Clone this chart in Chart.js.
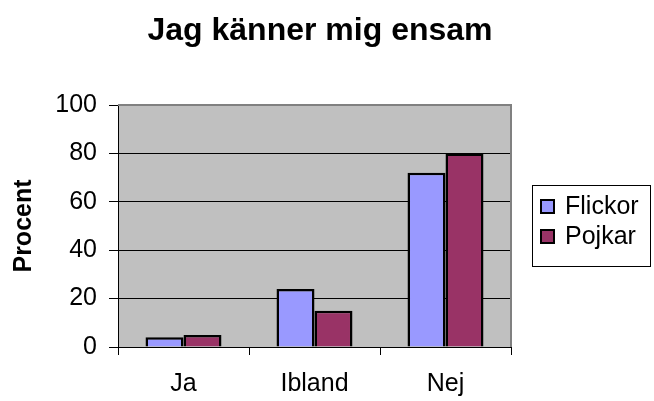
<!DOCTYPE html>
<html>
<head>
<meta charset="utf-8">
<script src="https://cdn.jsdelivr.net/npm/chart.js@4.4.1/dist/chart.umd.min.js"></script>
<style>
  html, body { margin: 0; padding: 0; background: #ffffff; }
  #wrap { width: 654px; height: 401px; }
</style>
</head>
<body>
<div id="wrap"><canvas id="c" width="654" height="401"></canvas></div>
<script>
const chartTitle = 'Jag känner mig ensam';
const yAxisTitle = 'Procent';
const categories = ['Ja', 'Ibland', 'Nej'];
const seriesNames = ['Flickor', 'Pojkar'];
const flickor = [4, 24, 72];
const pojkar = [5, 15, 80];
const yTicks = [0, 20, 40, 60, 80, 100];
const seriesColors = ['#9999FF', '#993366'];

const FONT = "Arial, 'Liberation Sans', sans-serif";

// Reserve space on the right for the legend without shrinking the full-width title
const legendSpace = {
  id: 'legendSpace',
  beforeInit(chart) {
    const box = {
      position: 'right',
      weight: 0,
      fullSize: false,
      options: {},
      width: 0, height: 0, left: 0, top: 0, right: 0, bottom: 0,
      isHorizontal() { return false; },
      update(maxW, maxH) { this.width = 129; this.height = maxH; },
      draw() {}
    };
    Chart.layouts.addBox(chart, box);
  }
};

const plotBg = {
  id: 'plotBg',
  beforeDraw(chart) {
    const { ctx, chartArea: a } = chart;
    ctx.save();
    ctx.fillStyle = '#C0C0C0';
    ctx.fillRect(a.left, a.top, a.right - a.left, a.bottom - a.top);
    ctx.restore();
  },
  afterDraw(chart) {
    const { ctx, chartArea: a } = chart;
    ctx.save();
    ctx.strokeStyle = '#808080';
    ctx.lineWidth = 2;
    ctx.beginPath();
    ctx.moveTo(a.left, a.top);
    ctx.lineTo(a.right, a.top);
    ctx.lineTo(a.right, a.bottom);
    ctx.stroke();
    // legend
    ctx.strokeStyle = '#000000';
    ctx.lineWidth = 1;
    ctx.strokeRect(532.5, 185.5, 118, 81);
    ctx.font = '25px ' + FONT;
    ctx.textBaseline = 'middle';
    ctx.textAlign = 'left';
    chart.data.datasets.forEach((ds, i) => {
      const cy = 206 + i * 30;
      ctx.fillStyle = ds.backgroundColor;
      ctx.fillRect(541, cy - 6, 13, 13);
      ctx.lineWidth = 2;
      ctx.strokeStyle = '#000';
      ctx.strokeRect(541, cy - 6, 13, 13);
      ctx.fillStyle = '#000';
      ctx.fillText(ds.label, 565, cy + 1);
    });
    ctx.restore();
  }
};

new Chart(document.getElementById('c'), {
  type: 'bar',
  data: {
    labels: categories,
    datasets: [
      { label: seriesNames[0], data: flickor, backgroundColor: seriesColors[0], borderColor: '#000', borderWidth: 2.5, borderSkipped: 'bottom' },
      { label: seriesNames[1], data: pojkar, backgroundColor: seriesColors[1], borderColor: '#000', borderWidth: 2.5, borderSkipped: 'bottom' }
    ]
  },
  plugins: [legendSpace, plotBg],
  options: {
    responsive: false,
    animation: false,
    devicePixelRatio: 1,
    layout: { padding: { left: 0, right: 14, top: 0, bottom: 0 } },
    datasets: { bar: { categoryPercentage: 0.58, barPercentage: 1.0 } },
    plugins: {
      legend: { display: false },
      tooltip: { enabled: false },
      title: {
        display: true,
        text: chartTitle,
        color: '#000',
        font: { family: FONT, size: 32, weight: 'bold' },
        padding: { top: 12, bottom: 54.6 }
      }
    },
    scales: {
      x: {
        offset: true,
        grid: { display: true, offset: true, drawOnChartArea: false, drawTicks: true, tickLength: 8, color: '#000' },
        border: { display: true, color: '#000', width: 1 },
        ticks: { color: '#000', font: { family: FONT, size: 25 }, padding: 14, maxRotation: 0 },
        afterFit(scale) { scale.height = 54; }
      },
      y: {
        min: 0,
        max: 100,
        afterBuildTicks(scale) { scale.ticks = yTicks.map(v => ({ value: v })); },
        grid: { color: '#000', lineWidth: 1, drawTicks: true, tickLength: 9 },
        border: { display: true, color: '#000', width: 1 },
        ticks: { color: '#000', font: { family: FONT, size: 25 }, padding: 12 },
        title: {
          display: true,
          text: yAxisTitle,
          color: '#000',
          font: { family: FONT, size: 25, weight: 'bold' },
          padding: { top: 9, bottom: 0 }
        },
        afterFit(scale) { scale.width = 118; }
      }
    }
  }
});
</script>
</body>
</html>
